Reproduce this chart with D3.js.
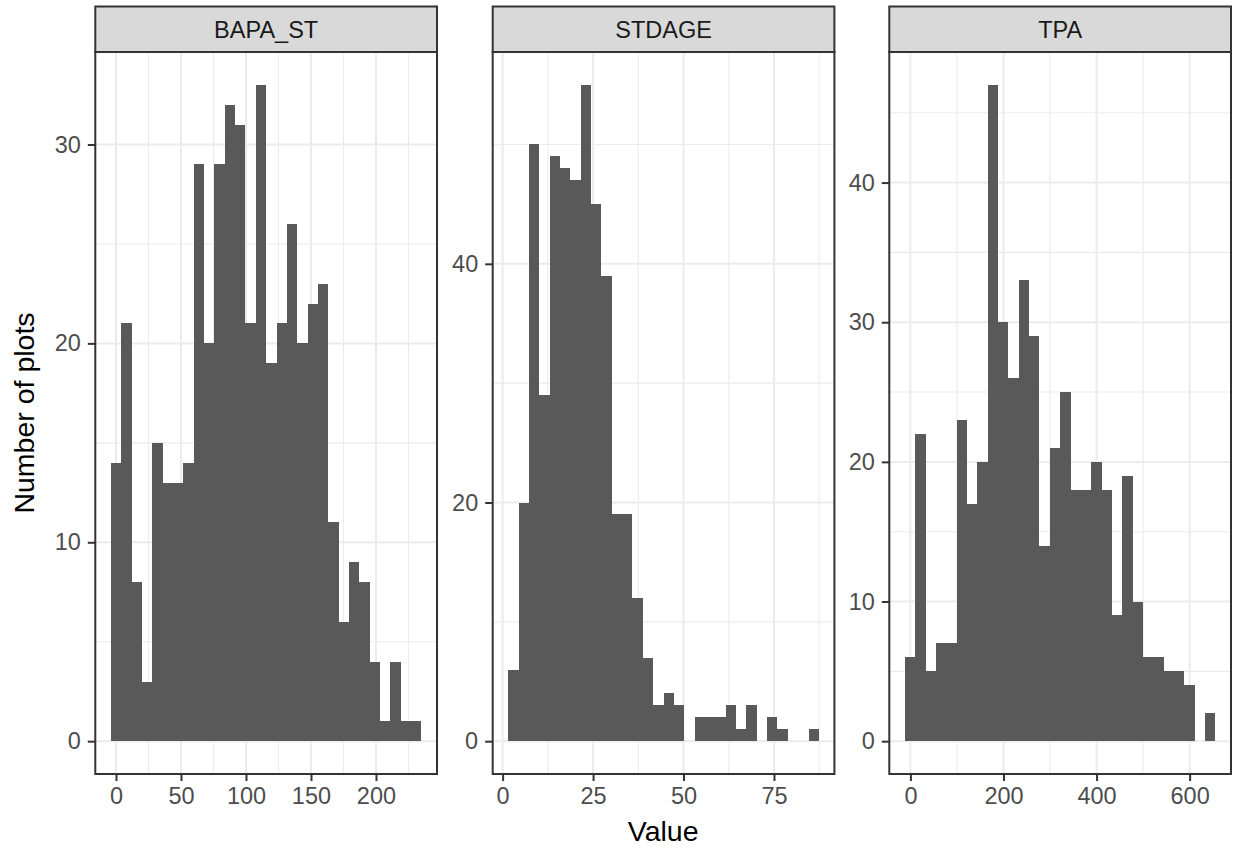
<!DOCTYPE html>
<html>
<head>
    <meta charset="utf-8">
    <title>Histograms by variable</title>
    <style>
        body {
            margin: 0;
            background: #ffffff;
        }

        svg {
            display: block;
            font-family: "Liberation Sans", Arial, sans-serif;
        }

        .axis text {
            font-size: 23.5px;
            fill: #4d4d4d;
        }

        .axis line {
            stroke: #333333;
            stroke-width: 2px;
        }

        .axis path {
            display: none;
        }
    </style>
    <script src="https://d3js.org/d3.v7.min.js"></script>
</head>
<body>
<div id="chart"></div>
<script>
    // facet names and histogram bins (30 bins each)
    const facets = ["BAPA_ST", "STDAGE", "TPA"];
    const binStart = [-3.98, 1.55, -12.0];
    const binWidth = [7.966, 2.862, 22.25];

    const countsBAPA = [14, 21, 8, 3, 15, 13, 13, 14, 29, 20, 29, 32, 31, 21, 33,
        19, 21, 26, 20, 22, 23, 11, 6, 9, 8, 4, 1, 4, 1, 1];
    const countsSTDAGE = [6, 20, 50, 29, 49, 48, 47, 55, 45, 39, 19, 19, 12, 7, 3,
        4, 3, 0, 2, 2, 2, 3, 1, 3, 0, 2, 1, 0, 0, 1];
    const countsTPA = [6, 22, 5, 7, 7, 23, 17, 20, 47, 30, 26, 33, 29, 14, 21,
        25, 18, 18, 20, 18, 9, 19, 10, 6, 6, 5, 5, 4, 0, 2];
    const counts = [countsBAPA, countsSTDAGE, countsTPA];

    const xTickValues = [[0, 50, 100, 150, 200], [0, 25, 50, 75], [0, 200, 400, 600]];
    const yTickValues = [[0, 10, 20, 30], [0, 20, 40], [0, 10, 20, 30, 40]];

    const xTitle = "Value";
    const yTitle = "Number of plots";

    // layout
    const width = 1238, height = 850;
    const panelLeft = [95.3, 492.7, 889.3];
    const panelWidth = 341.7;
    const stripTop = 6.5, panelTop = 52, panelBottom = 774;

    const svg = d3.select("#chart").append("svg")
        .attr("width", width)
        .attr("height", height);

    svg.append("rect")
        .attr("width", width)
        .attr("height", height)
        .attr("fill", "#ffffff");

    // minor breaks halfway between majors, kept inside the domain
    function minorBreaks(ticks, domain) {
        const step = ticks[1] - ticks[0];
        const out = [];
        for (let v = ticks[0] - step / 2; v <= ticks[ticks.length - 1] + step / 2 + 1e-9; v += step) {
            if (v >= domain[0] && v <= domain[1]) out.push(v);
        }
        return out;
    }

    facets.forEach((name, f) => {
        const c = counts[f];
        const bins = c.map((n, i) => ({
            x0: binStart[f] + i * binWidth[f],
            x1: binStart[f] + (i + 1) * binWidth[f],
            n: n
        }));

        // ggplot style 5% expansion
        const xLo = bins[0].x0, xHi = bins[bins.length - 1].x1;
        const xPad = (xHi - xLo) * 0.05;
        const yMax = d3.max(c);
        const yPad = yMax * 0.05;

        const x = d3.scaleLinear()
            .domain([xLo - xPad, xHi + xPad])
            .range([panelLeft[f], panelLeft[f] + panelWidth]);
        const y = d3.scaleLinear()
            .domain([-yPad, yMax + yPad])
            .range([panelBottom, panelTop]);

        const g = svg.append("g").attr("class", "panel");

        // grid lines
        const grid = g.append("g");
        grid.selectAll("line.xminor")
            .data(minorBreaks(xTickValues[f], x.domain()))
            .join("line")
            .attr("x1", d => x(d)).attr("x2", d => x(d))
            .attr("y1", panelTop).attr("y2", panelBottom)
            .attr("stroke", "#ebebeb").attr("stroke-width", 1.1);
        grid.selectAll("line.yminor")
            .data(minorBreaks(yTickValues[f], y.domain()))
            .join("line")
            .attr("x1", panelLeft[f]).attr("x2", panelLeft[f] + panelWidth)
            .attr("y1", d => y(d)).attr("y2", d => y(d))
            .attr("stroke", "#ebebeb").attr("stroke-width", 1.1);
        grid.selectAll("line.xmajor")
            .data(xTickValues[f])
            .join("line")
            .attr("x1", d => x(d)).attr("x2", d => x(d))
            .attr("y1", panelTop).attr("y2", panelBottom)
            .attr("stroke", "#ebebeb").attr("stroke-width", 2);
        grid.selectAll("line.ymajor")
            .data(yTickValues[f])
            .join("line")
            .attr("x1", panelLeft[f]).attr("x2", panelLeft[f] + panelWidth)
            .attr("y1", d => y(d)).attr("y2", d => y(d))
            .attr("stroke", "#ebebeb").attr("stroke-width", 2);

        // bars
        g.append("g")
            .selectAll("rect")
            .data(bins)
            .join("rect")
            .attr("x", d => x(d.x0))
            .attr("width", d => x(d.x1) - x(d.x0))
            .attr("y", d => y(d.n))
            .attr("height", d => y(0) - y(d.n))
            .attr("fill", "#595959")
            .attr("shape-rendering", "crispEdges");

        // panel border
        g.append("rect")
            .attr("x", panelLeft[f]).attr("y", panelTop)
            .attr("width", panelWidth).attr("height", panelBottom - panelTop)
            .attr("fill", "none")
            .attr("stroke", "#333333")
            .attr("stroke-width", 2);

        // strip
        g.append("rect")
            .attr("x", panelLeft[f]).attr("y", stripTop)
            .attr("width", panelWidth).attr("height", panelTop - stripTop)
            .attr("fill", "#d9d9d9")
            .attr("stroke", "#333333")
            .attr("stroke-width", 2);
        g.append("text")
            .attr("x", panelLeft[f] + panelWidth / 2)
            .attr("y", 38)
            .attr("text-anchor", "middle")
            .attr("fill", "#1a1a1a")
            .style("font-size", "23.5px")
            .text(name);

        // axes
        g.append("g")
            .attr("class", "axis")
            .attr("transform", `translate(0,${panelBottom})`)
            .call(d3.axisBottom(x).tickValues(xTickValues[f]).tickSize(7).tickPadding(6)
                .tickFormat(d3.format("d")));
        g.append("g")
            .attr("class", "axis")
            .attr("transform", `translate(${panelLeft[f]},0)`)
            .call(d3.axisLeft(y).tickValues(yTickValues[f]).tickSize(7.5).tickPadding(7)
                .tickFormat(d3.format("d")));
    });

    // axis titles
    svg.append("text")
        .attr("x", (panelLeft[0] + panelLeft[2] + panelWidth) / 2)
        .attr("y", 841)
        .attr("text-anchor", "middle")
        .attr("fill", "#000000")
        .style("font-size", "28.5px")
        .text(xTitle);

    svg.append("text")
        .attr("transform", `translate(33.5,${(panelTop + panelBottom) / 2}) rotate(-90)`)
        .attr("text-anchor", "middle")
        .attr("fill", "#000000")
        .style("font-size", "28.5px")
        .text(yTitle);
</script>
</body>
</html>
